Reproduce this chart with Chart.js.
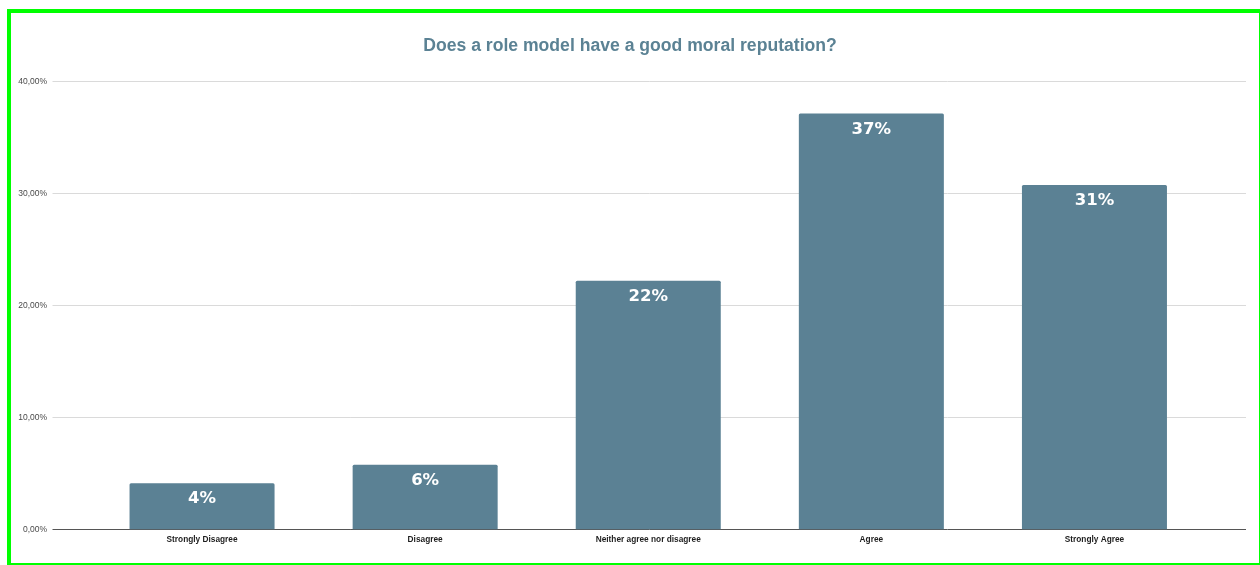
<!DOCTYPE html>
<html>
<head>
<meta charset="utf-8">
<script src="https://cdn.jsdelivr.net/npm/chart.js@4.4.0/dist/chart.umd.min.js"></script>
<style>
  html, body { margin: 0; padding: 0; background: #fff; }
  #wrap { position: relative; width: 1260px; height: 565px; }
  #chart { position: absolute; left: 0; top: 0; }
  #frame {
    position: absolute; left: 7px; top: 9px;
    width: 1248px; height: 550px;
    border-style: solid; border-color: #00ff00;
    border-width: 4px 1px 2px 4px;
    pointer-events: none;
  }
</style>
</head>
<body>
<div id="wrap">
  <canvas id="chart" width="1260" height="565"></canvas>
  <div id="frame"></div>
</div>
<script>
'use strict';

var answers = ['Strongly Disagree', 'Disagree', 'Neither agree nor disagree', 'Agree', 'Strongly Agree'];
var shares = [4.14, 5.78, 22.2, 37.14, 30.75];
var yTicks = [0, 10, 20, 30, 40];

var barColor = '#5b8194';
var sans = '"Liberation Sans", Arial, sans-serif';

// horizontal grid lines run a little past the plot on both sides
var wideGrid = {
    id: 'wideGrid',
    beforeDatasetsDraw: function (chart) {
        var ctx = chart.ctx;
        var area = chart.chartArea;
        var y = chart.scales.y;
        var x0 = area.left - 38;
        var x1 = area.right + 40;
        ctx.save();
        yTicks.forEach(function (v) {
            var py = Math.floor(y.getPixelForValue(v)) + 0.5;
            ctx.beginPath();
            ctx.strokeStyle = v === 0 ? '#555555' : '#dadada';
            ctx.lineWidth = 1;
            ctx.moveTo(x0, py);
            ctx.lineTo(x1, py);
            ctx.stroke();
        });
        ctx.restore();
    }
};

// rounded percentage printed inside the top of every bar
var barLabels = {
    id: 'barLabels',
    afterDatasetsDraw: function (chart) {
        var ctx = chart.ctx;
        var meta = chart.getDatasetMeta(0);
        ctx.save();
        ctx.fillStyle = '#ffffff';
        ctx.font = 'bold 16.5px "DejaVu Sans"';
        ctx.textAlign = 'center';
        ctx.textBaseline = 'middle';
        meta.data.forEach(function (bar, i) {
            ctx.fillText(Math.round(shares[i]) + '%', bar.x, bar.y + 16);
        });
        ctx.restore();
    }
};

new Chart(document.getElementById('chart'), {
    type: 'bar',
    data: {
        labels: answers,
        datasets: [{
            label: '',
            data: shares,
            backgroundColor: barColor,
            borderWidth: 0,
            borderRadius: 1.5,
            borderSkipped: 'bottom',
            categoryPercentage: 1,
            barPercentage: 0.65
        }]
    },
    options: {
        responsive: false,
        animation: false,
        layout: {
            padding: { left: 10, right: 10, top: 0, bottom: 0 }
        },
        plugins: {
            legend: { display: false },
            tooltip: { enabled: false },
            title: {
                display: true,
                text: 'Does a role model have a good moral reputation?',
                color: '#5b8294',
                font: { family: sans, size: 17.6, weight: 'bold' },
                padding: { top: 36, bottom: 24.4 }
            }
        },
        scales: {
            x: {
                grid: { display: false, drawTicks: false },
                border: { display: false },
                ticks: {
                    color: '#1e1e1e',
                    padding: 5,
                    maxRotation: 0,
                    font: { family: sans, size: 8.3, weight: 'bold' }
                },
                afterFit: function (scale) { scale.height = 35.5; }
            },
            y: {
                min: 0,
                max: 40,
                grid: { display: false, drawTicks: true, tickLength: 41 },
                border: { display: false },
                ticks: {
                    stepSize: 10,
                    color: '#4a4a4a',
                    padding: 2.5,
                    font: { family: sans, size: 8.5 },
                    callback: function (v) { return v.toFixed(2).replace('.', ',') + '%'; }
                },
                afterFit: function (scale) { scale.width = 80.5; }
            },
            // empty axis on the right keeps the plot clear of the edge
            yRight: {
                type: 'linear',
                position: 'right',
                grid: { display: false, drawTicks: false },
                border: { display: false },
                ticks: { display: false },
                afterFit: function (scale) { scale.width = 44; }
            }
        }
    },
    plugins: [wideGrid, barLabels]
});
</script>
</body>
</html>
